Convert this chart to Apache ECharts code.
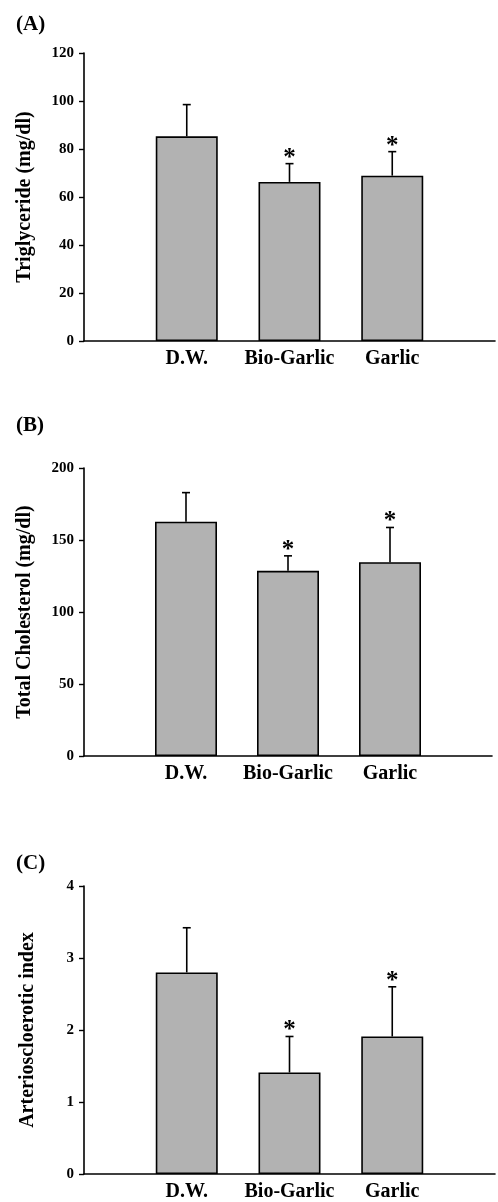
<!DOCTYPE html>
<html>
<head>
<meta charset="utf-8">
<script src="https://cdn.jsdelivr.net/npm/echarts@6/dist/echarts.min.js"></script>
<style>
  html, body { margin: 0; padding: 0; background: #fff; }
  #chart { width: 498px; height: 1202px; }
</style>
</head>
<body>
<div id="chart"></div>
<script>
// 组别
const categories = ['D.W.', 'Bio-Garlic', 'Garlic'];
// (A) 甘油三酯 mean / SD
const triglycerideMean = [85.3, 66.3, 68.9];
const triglycerideSd = [13.2, 7.6, 10.0];
// (B) 总胆固醇
const cholesterolMean = [162.7, 128.6, 134.6];
const cholesterolSd = [20.2, 10.4, 24.1];
// (C) 动脉硬化指数
const aiMean = [2.80, 1.41, 1.91];
const aiSd = [0.62, 0.50, 0.69];
// 显著性标记
const significant = [false, true, true];
// y 轴刻度
const yTicksA = [0, 20, 40, 60, 80, 100, 120];
const yTicksB = [0, 50, 100, 150, 200];
const yTicksC = [0, 1, 2, 3, 4];

const panelLabels = ['(A)', '(B)', '(C)'];
const axisNames = ['Triglyceride (mg/dl)', 'Total Cholesterol (mg/dl)', 'Arterioscloerotic index'];

const serif = '"Liberation Serif", "DejaVu Serif", serif';
// 两端留空的类目轴
const axisCats = [''].concat(categories, ['']);

const grids = [
    { left: 84, top: 53, width: 413, height: 288 },
    { left: 84, top: 468, width: 408, height: 288 },
    { left: 84, top: 886, width: 417, height: 291 }
];
const panels = [
    { mean: triglycerideMean, sd: triglycerideSd, ticks: yTicksA, gap: 49 },
    { mean: cholesterolMean, sd: cholesterolSd, ticks: yTicksB, gap: 49 },
    { mean: aiMean, sd: aiSd, ticks: yTicksC, gap: 46 }
];
const labelTops = [9, 410, 848];

function errorBarItem(params, api) {
    const x = api.value(0), m = api.value(1), s = api.value(2), sig = api.value(3);
    const base = api.coord([x, m]);
    const top = api.coord([x, m + s]);
    const cap = 4;
    const children = [
        { type: 'line', shape: { x1: base[0], y1: base[1], x2: top[0], y2: top[1] },
          style: { stroke: '#000', lineWidth: 1.6 } },
        { type: 'line', shape: { x1: top[0] - cap, y1: top[1], x2: top[0] + cap, y2: top[1] },
          style: { stroke: '#000', lineWidth: 1.6 } }
    ];
    if (sig) {
        children.push({ type: 'text', style: {
            text: '*', x: top[0], y: top[1] + 7, align: 'center', verticalAlign: 'bottom',
            font: 'bold 25px ' + serif, fill: '#000' } });
    }
    return { type: 'group', children: children };
}

var myChart = echarts.init(document.getElementById('chart'));

const xAxes = [], yAxes = [], series = [], titles = [];
panels.forEach(function (p, i) {
    titles.push({ text: panelLabels[i], left: 11, top: labelTops[i],
        textStyle: { fontFamily: serif, fontSize: 21, fontWeight: 'bold', color: '#000' } });
    xAxes.push({
        type: 'category', gridIndex: i, data: axisCats, boundaryGap: false,
        axisLine: { lineStyle: { color: '#000', width: 1.6 } },
        axisTick: { show: false },
        axisLabel: { interval: 0, margin: 8, color: '#000', fontFamily: serif, fontSize: 20, fontWeight: 'bold' },
        splitLine: { show: false }
    });
    const t = p.ticks;
    yAxes.push({
        type: 'value', gridIndex: i, min: t[0], max: t[t.length - 1], interval: t[1] - t[0],
        name: axisNames[i], nameLocation: 'middle', nameRotate: 90, nameGap: p.gap,
        nameTextStyle: { fontFamily: serif, fontSize: 20, fontWeight: 'bold', color: '#000' },
        axisLine: { show: true, lineStyle: { color: '#000', width: 1.6 } },
        axisTick: { show: true, length: 5, lineStyle: { color: '#000', width: 1.4 } },
        axisLabel: { margin: 10, color: '#000', fontFamily: serif, fontSize: 15, fontWeight: 'bold' },
        splitLine: { show: false }
    });
    series.push({
        type: 'bar', xAxisIndex: i, yAxisIndex: i, barWidth: 62,
        itemStyle: { color: '#b2b2b2', borderColor: '#000', borderWidth: 1.6 },
        data: p.mean.map(function (v, k) { return [k + 1, v]; })
    });
    series.push({
        type: 'custom', xAxisIndex: i, yAxisIndex: i, renderItem: errorBarItem, z: 3,
        data: p.mean.map(function (v, k) { return [k + 1, v, p.sd[k], significant[k] ? 1 : 0]; })
    });
});

myChart.setOption({
    animation: false,
    backgroundColor: '#fff',
    title: titles,
    grid: grids,
    xAxis: xAxes,
    yAxis: yAxes,
    series: series
});
</script>
</body>
</html>
